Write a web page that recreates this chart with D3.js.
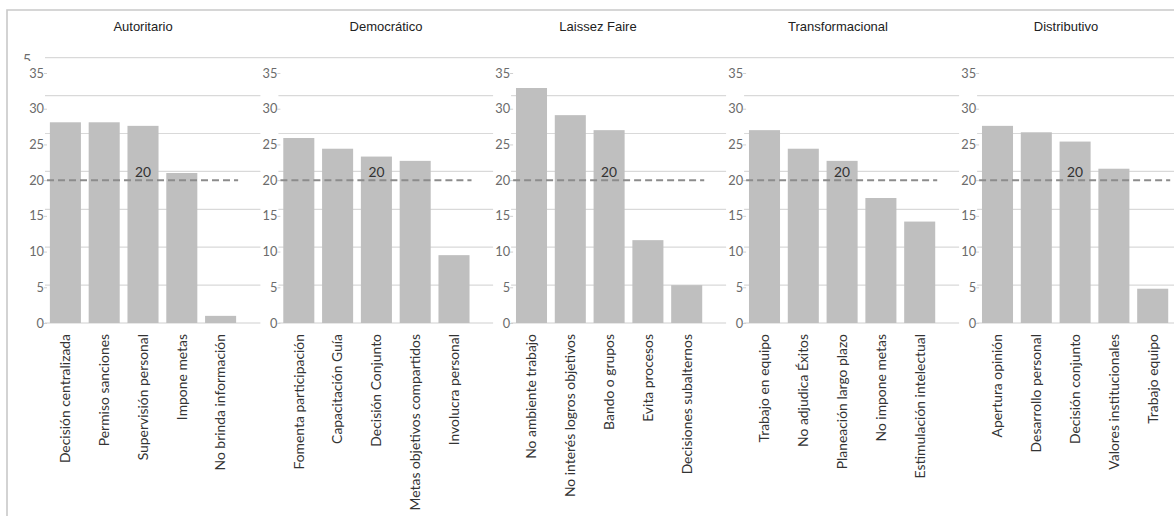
<!DOCTYPE html>
<html>
<head>
<meta charset="utf-8">
<script src="https://cdn.jsdelivr.net/npm/d3@7"></script>
<style>
  html, body { margin: 0; padding: 0; background: #fff; }
  svg { display: block; }
</style>
</head>
<body>
<svg id="chart" width="1174" height="516"></svg>
<script>
// Leadership styles and their rated traits
const styles = ["Autoritario", "Democrático", "Laissez Faire", "Transformacional", "Distributivo"];

const autoritarioCats = ["Decisión centralizada", "Permiso sanciones", "Supervisión personal", "Impone metas", "No brinda información"];
const autoritarioVals = [28.1, 28.1, 27.6, 21.0, 1.0];

const democraticoCats = ["Fomenta participación", "Capacitación Guía", "Decisión Conjunto", "Metas objetivos compartidos", "Involucra personal"];
const democraticoVals = [25.9, 24.4, 23.3, 22.7, 9.5];

const laissezCats = ["No ambiente trabajo", "No interés logros objetivos", "Bando o grupos", "Evita procesos", "Decisiones subalternos"];
const laissezVals = [32.9, 29.1, 27.0, 11.6, 5.3];

const transformCats = ["Trabajo en equipo", "No adjudica Éxitos", "Planeación largo plazo", "No impone metas", "Estimulación intelectual"];
const transformVals = [27.0, 24.4, 22.7, 17.5, 14.2];

const distribCats = ["Apertura opinión", "Desarrollo personal", "Decisión conjunto", "Valores institucionales", "Trabajo equipo"];
const distribVals = [27.6, 26.7, 25.4, 21.6, 4.8];

const yTicks = [0, 5, 10, 15, 20, 25, 30, 35];
const threshold = 20;

const panels = [
  { title: styles[0], cats: autoritarioCats, vals: autoritarioVals },
  { title: styles[1], cats: democraticoCats, vals: democraticoVals },
  { title: styles[2], cats: laissezCats, vals: laissezVals },
  { title: styles[3], cats: transformCats, vals: transformVals },
  { title: styles[4], cats: distribCats, vals: distribVals }
];

// Layout
const W = 1174, H = 516;
const panelStart = [46, 279.4, 512.1, 745.1, 978.1];
const panelWidth = 194;
const titleX = [143, 386, 598, 838, 1066];

const svg = d3.select("#chart");

// Outer frame
svg.append("path")
  .attr("d", `M7,${H + 2} L7,10 L${W + 2},10`)
  .attr("fill", "none")
  .attr("stroke", "#c9c9c9")
  .attr("stroke-width", 1.6);

// Value scale (bars, axis labels, reference line)
const y = d3.scaleLinear().domain([0, 35]).range([323, 73]);
// Background grid scale
const yGrid = d3.scaleLinear().domain([0, 35]).range([323, 57.7]);

// Continuous top gridline
svg.append("line")
  .attr("x1", 45).attr("x2", W)
  .attr("y1", yGrid(35)).attr("y2", yGrid(35))
  .attr("stroke", "#d9d9d9").attr("stroke-width", 1.2);

// Partial label left at the top corner
svg.append("clipPath").attr("id", "topclip")
  .append("rect").attr("x", 15).attr("y", 40).attr("width", 30).attr("height", 21);
svg.append("text")
  .attr("clip-path", "url(#topclip)")
  .attr("x", 27).attr("y", 63.5)
  .attr("text-anchor", "middle")
  .attr("font-family", "Lato, 'Open Sans', sans-serif")
  .attr("font-size", 14)
  .attr("fill", "#6b6b6b")
  .text("5");

panels.forEach((p, i) => {
  const x0 = panelStart[i];
  const x1 = x0 + panelWidth;
  const gridEnd = i < panels.length - 1 ? panelStart[i + 1] - 19 : W;

  const x = d3.scaleBand()
    .domain(p.cats)
    .range([x0, x1])
    .paddingInner(0.2)
    .paddingOuter(0.1);

  const g = svg.append("g");

  // Background gridlines for this panel
  g.selectAll("line.grid")
    .data(yTicks.filter(t => t < 35))
    .join("line")
    .attr("class", "grid")
    .attr("x1", x0 - 1).attr("x2", gridEnd)
    .attr("y1", d => yGrid(d)).attr("y2", d => yGrid(d))
    .attr("stroke", d => d === 0 ? "#d0d0d0" : "#d9d9d9")
    .attr("stroke-width", 1.2);

  // Y axis labels
  const axis = g.append("g")
    .attr("transform", `translate(${x0 + 1},0)`)
    .call(d3.axisLeft(y).tickValues(yTicks).tickSize(3).tickPadding(0));
  axis.select(".domain").remove();
  axis.selectAll(".tick line").attr("stroke", "#d0d0d0");
  axis.selectAll(".tick text")
    .attr("fill", "#6b6b6b")
    .attr("font-family", "Lato, 'Open Sans', sans-serif")
    .attr("font-size", 12.8);

  // Bars
  g.selectAll("rect.bar")
    .data(p.vals)
    .join("rect")
    .attr("class", "bar")
    .attr("x", (d, j) => x(p.cats[j]))
    .attr("width", x.bandwidth())
    .attr("y", d => y(d))
    .attr("height", d => y(0) - y(d))
    .attr("fill", "#bfbfbf");

  // Reference line at 20
  const lastCat = p.cats[p.cats.length - 1];
  g.append("line")
    .attr("x1", x0 + 1)
    .attr("x2", x(lastCat) + x.bandwidth() + 2)
    .attr("y1", y(threshold)).attr("y2", y(threshold))
    .attr("stroke", "#8c8c8c")
    .attr("stroke-width", 2)
    .attr("stroke-dasharray", "7,4");

  const midCat = p.cats[2];
  g.append("text")
    .attr("x", x(midCat) + x.bandwidth() / 2)
    .attr("y", y(threshold) - 3)
    .attr("text-anchor", "middle")
    .attr("font-family", "Lato, 'Open Sans', sans-serif")
    .attr("font-size", 13.8)
    .attr("fill", "#333")
    .text(threshold);

  // Category labels, rotated
  g.selectAll("text.cat")
    .data(p.cats)
    .join("text")
    .attr("class", "cat")
    .attr("transform", d => `translate(${x(d) + x.bandwidth() / 2},334) rotate(-90)`)
    .attr("dy", "0.35em")
    .attr("text-anchor", "end")
    .attr("font-family", "Lato, 'Open Sans', sans-serif")
    .attr("font-size", 13.9)
    .attr("fill", "#333")
    .text(d => d);

  // Panel title
  svg.append("text")
    .attr("x", titleX[i])
    .attr("y", 31)
    .attr("text-anchor", "middle")
    .attr("font-family", "'Liberation Sans', Arial, sans-serif")
    .attr("font-size", 13)
    .attr("fill", "#222")
    .text(p.title);
});
</script>
</body>
</html>
